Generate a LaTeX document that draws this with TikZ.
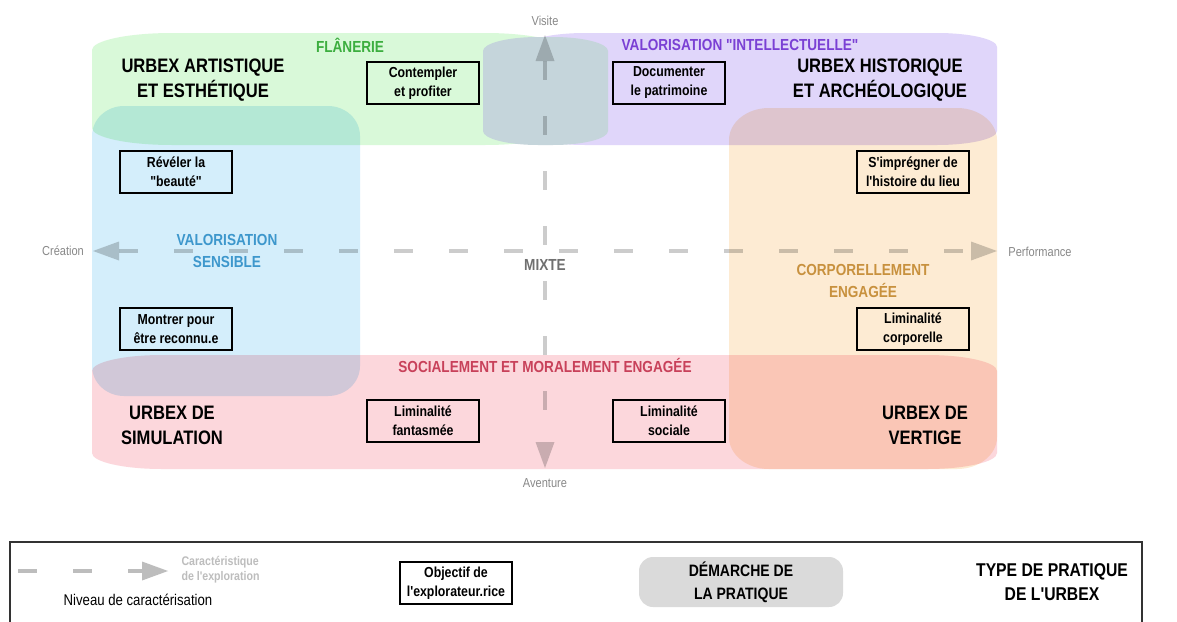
\documentclass[tikz,border=0pt]{standalone}
\usepackage{fontspec}
\setmainfont{Liberation Sans}[FakeStretch=0.85,Ligatures=TeXOff]
\usetikzlibrary{arrows.meta}

\definecolor{flanfill}{HTML}{D9F9D9}
\definecolor{intelfill}{HTML}{E0D6FA}
\definecolor{sensfill}{HTML}{D4EEFB}
\definecolor{corpfill}{HTML}{FDEBD3}
\definecolor{socfill}{HTML}{FCD7DC}
\definecolor{visitfill}{HTML}{C5D5DB}
\definecolor{flantext}{HTML}{3CAE3F}
\definecolor{inteltext}{HTML}{7A40D4}
\definecolor{senstext}{HTML}{3D97CC}
\definecolor{corptext}{HTML}{C8913E}
\definecolor{soctext}{HTML}{C8415A}
\definecolor{axgrey}{HTML}{CCCCCC}
\definecolor{axtext}{HTML}{888888}
\definecolor{mixtetext}{HTML}{707070}
\definecolor{leggrey}{HTML}{BDBDBD}
\definecolor{legfill}{HTML}{DADADA}

% zone with elliptic corners: style, x1, y1, x2, y2, rx, ry
\newcommand{\urbzone}[7]{%
  \path[#1] (#2,#3+#7)
    arc[start angle=180,end angle=270,x radius=#6,y radius=#7]
    -- (#4-#6,#3)
    arc[start angle=270,end angle=360,x radius=#6,y radius=#7]
    -- (#4,#5-#7)
    arc[start angle=0,end angle=90,x radius=#6,y radius=#7]
    -- (#2+#6,#5)
    arc[start angle=90,end angle=180,x radius=#6,y radius=#7]
    -- cycle;}

\begin{document}
\begin{tikzpicture}[x=1pt,y=-1pt,
  obj/.style={draw=black,line width=1.8pt,minimum width=112pt,minimum height=42pt,
    inner sep=2pt,align=center,font=\fontsize{14.5}{19}\selectfont\bfseries},
  urbex/.style={align=center,font=\fontsize{19.5}{25}\selectfont\bfseries},
  demarche/.style={align=center,font=\fontsize{16}{22}\selectfont\bfseries},
  axlabel/.style={text=axtext,font=\fontsize{13}{15}\selectfont},
  axe/.style={draw=axgrey,line width=4.5pt,dash pattern=on 19pt off 36pt,blend mode=multiply},
  tip/.tip={Triangle[length=26pt,width=19pt,line width=0pt]}]
\clip (0,0) rectangle (1177,621);
\fill[white] (0,0) rectangle (1177,621);

\urbzone{fill=flanfill,blend mode=multiply}{92}{33}{565}{145}{80}{17}
\urbzone{fill=intelfill,blend mode=multiply}{525}{33}{997}{145}{60}{14}
\urbzone{fill=sensfill,blend mode=multiply}{92}{106}{360}{396}{32}{30}
\urbzone{fill=corpfill,blend mode=multiply}{729}{108}{997}{469}{40}{32}
\urbzone{fill=socfill,blend mode=multiply}{92}{355}{997}{469}{70}{16}
\urbzone{fill=visitfill}{483}{37}{608}{145}{55}{14}

\coordinate (vtop) at (545,35);
\coordinate (vbot) at (545,468);
\coordinate (hleft) at (93,251);
\coordinate (hright) at (997,251);
\draw[axe,tip-tip] (vtop) -- (vbot);
\draw[axe,tip-tip] (hleft) -- (hright);

\node[axlabel] (visite) at (545,21) {Visite};
\node[axlabel] (aventure) at (545,483) {Aventure};
\node[axlabel] (creation) at (63,251) {Création};
\node[axlabel] (performance) at (1040,252) {Performance};
\node[demarche,text=mixtetext] (mixte) at (545,265) {MIXTE};

\node[demarche,text=flantext] (flanerie) at (350,45) {FLÂNERIE};
\node[demarche,text=inteltext] (intellectuelle) at (740,45) {VALORISATION "INTELLECTUELLE"};
\node[demarche,text=senstext] (sensible) at (227,251) {VALORISATION\\SENSIBLE};
\node[demarche,text=corptext] (corporellement) at (863,281) {CORPORELLEMENT\\ENGAGÉE};
\node[demarche,text=soctext] (socialement) at (545,365) {SOCIALEMENT ET MORALEMENT ENGAGÉE};

\node[urbex] (artistique) at (203,80) {URBEX ARTISTIQUE\\ET ESTHÉTIQUE};
\node[urbex] (historique) at (880,80) {URBEX HISTORIQUE\\ET ARCHÉOLOGIQUE};
\node[urbex] (simulation) at (172,425) {URBEX DE\\SIMULATION};
\node[urbex] (vertige) at (925,425) {URBEX DE\\VERTIGE};

\node[obj] (contempler) at (423,83) {Contempler\\et profiter};
\node[obj] (documenter) at (669,83) {Documenter\\le patrimoine};
\node[obj] (reveler) at (176,172) {Révéler la\\"beauté"};
\node[obj] (impregner) at (913,172) {S'imprégner de\\l'histoire du lieu};
\node[obj] (montrer) at (176,329) {Montrer pour\\être reconnu.e};
\node[obj] (limcorp) at (913,329) {Liminalité\\corporelle};
\node[obj] (limfant) at (423,421) {Liminalité\\fantasmée};
\node[obj] (limsoc) at (669,421) {Liminalité\\sociale};

% legende
\draw[line width=1.5pt,draw=black!80] (10,542) rectangle (1142,650);
\coordinate (lgstart) at (18,571);
\coordinate (lgend) at (168,571);
\draw[axe,draw=leggrey,-tip] (lgstart) -- (lgend);
\node[anchor=west,align=left,text=leggrey,font=\fontsize{12.5}{15}\selectfont\bfseries] (caract) at (178,570) {Caractéristique\\de l'exploration};
\node[font=\fontsize{15.5}{18}\selectfont] (niveau) at (138,600) {Niveau de caractérisation};
\node[obj] (objectif) at (456,583) {Objectif de\\l'explorateur.rice};
\node[demarche,fill=legfill,rounded corners=14pt,minimum width=204pt,minimum height=50pt,
  font=\fontsize{16.5}{23}\selectfont\bfseries] (demlegend) at (741,582) {DÉMARCHE DE\\LA PRATIQUE};
\node[urbex,font=\fontsize{18.5}{24}\selectfont\bfseries] (typelegend) at (1052,582) {TYPE DE PRATIQUE\\DE L'URBEX};
\end{tikzpicture}
\end{document}
